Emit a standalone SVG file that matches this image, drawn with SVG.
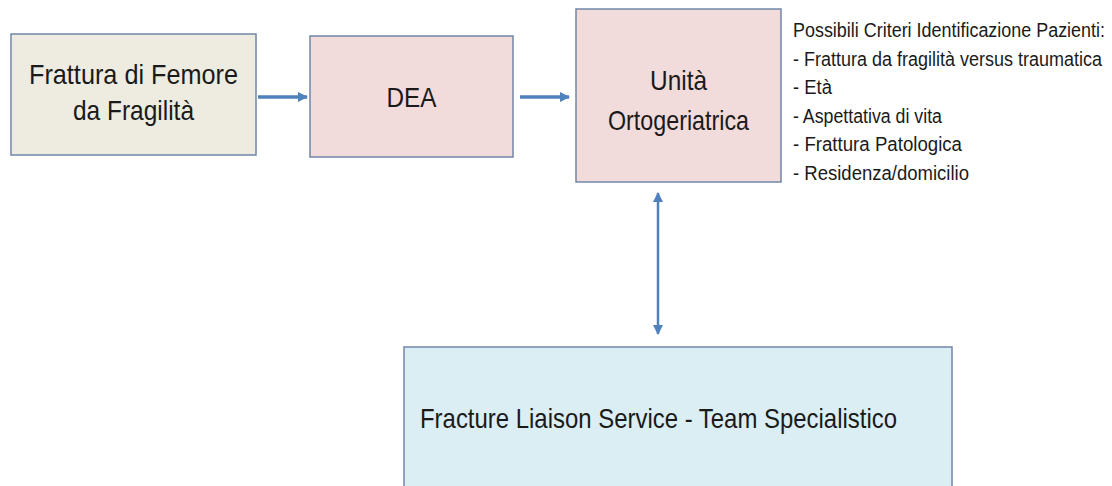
<svg xmlns="http://www.w3.org/2000/svg" width="1112" height="486" viewBox="0 0 1112 486">
  <style>
    .box { stroke: #7186A8; stroke-width: 1.5; }
    .beige { fill: #EEECE1; }
    .pink { fill: #F2DCDB; }
    .blue { fill: #DBEEF4; }
    text { font-family: "Liberation Sans Narrow", "Liberation Sans", Arial, sans-serif; fill: #1a1a1a; }
    .lbl { font-size: 28px; text-anchor: middle; }
    .list { font-size: 20px; }
    .conn { stroke: #4F81BD; fill: none; }
  </style>
  <defs>
    <marker id="ah" viewBox="0 0 10 10" refX="9" refY="5" markerWidth="3" markerHeight="3" orient="auto" markerUnits="strokeWidth">
      <path d="M0,0 L10,5 L0,10 z" fill="#4F81BD"/>
    </marker>
    <marker id="ah2" viewBox="0 0 10 10" refX="9" refY="5" markerWidth="4" markerHeight="4" orient="auto-start-reverse" markerUnits="strokeWidth">
      <path d="M0,0 L10,5 L0,10 z" fill="#4F81BD"/>
    </marker>
  </defs>
  <rect width="1112" height="486" fill="#ffffff"/>
  <g id="connectors">
    <line class="conn" x1="258" y1="97" x2="307" y2="97" stroke-width="3.5" marker-end="url(#ah)"/>
    <line class="conn" x1="520" y1="97" x2="569" y2="97" stroke-width="3.5" marker-end="url(#ah)"/>
    <line class="conn" x1="658" y1="193" x2="658" y2="334" stroke-width="2.5" marker-start="url(#ah2)" marker-end="url(#ah2)"/>
  </g>
  <g id="node-frattura">
    <rect class="box beige" x="11" y="34" width="245" height="121"/>
    <text class="lbl" x="133.5" y="84" textLength="209" lengthAdjust="spacingAndGlyphs">Frattura di Femore</text>
    <text class="lbl" x="133.5" y="120" textLength="121" lengthAdjust="spacingAndGlyphs">da Fragilità</text>
  </g>
  <g id="node-dea">
    <rect class="box pink" x="310" y="36" width="203" height="121"/>
    <text class="lbl" x="411.5" y="107" textLength="50" lengthAdjust="spacingAndGlyphs">DEA</text>
  </g>
  <g id="node-unita">
    <rect class="box pink" x="576" y="9" width="205" height="173"/>
    <text class="lbl" x="678.5" y="90" textLength="57" lengthAdjust="spacingAndGlyphs">Unità</text>
    <text class="lbl" x="678.5" y="130" textLength="141" lengthAdjust="spacingAndGlyphs">Ortogeriatrica</text>
  </g>
  <g id="criteri">
    <text class="list" x="793" y="37" textLength="312" lengthAdjust="spacingAndGlyphs">Possibili Criteri Identificazione Pazienti:</text>
    <text class="list" x="793" y="65.5" textLength="309" lengthAdjust="spacingAndGlyphs">- Frattura da fragilità versus traumatica</text>
    <text class="list" x="793" y="94" textLength="39" lengthAdjust="spacingAndGlyphs">- Età</text>
    <text class="list" x="793" y="122.5" textLength="149" lengthAdjust="spacingAndGlyphs">- Aspettativa di vita</text>
    <text class="list" x="793" y="151" textLength="169" lengthAdjust="spacingAndGlyphs">- Frattura Patologica</text>
    <text class="list" x="793" y="180" textLength="176" lengthAdjust="spacingAndGlyphs">- Residenza/domicilio</text>
  </g>
  <g id="node-fls">
    <rect class="box blue" x="404" y="347" width="548" height="150"/>
    <text class="lbl" x="658.5" y="428" textLength="477" lengthAdjust="spacingAndGlyphs">Fracture Liaison Service - Team Specialistico</text>
  </g>
</svg>
